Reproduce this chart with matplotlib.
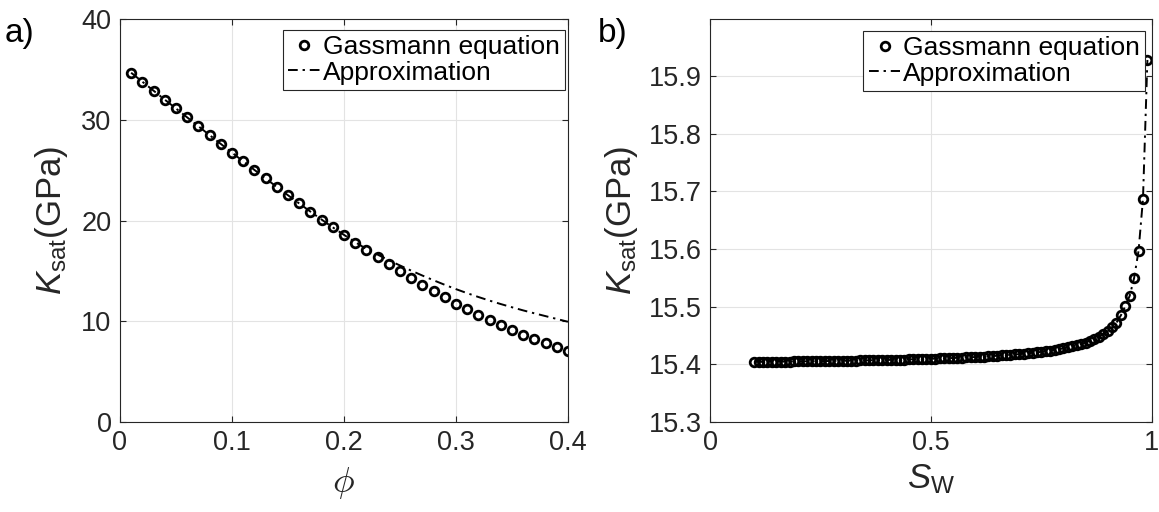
import matplotlib
matplotlib.use("Agg")
import matplotlib.pyplot as plt

plt.rcParams['font.family'] = ['Liberation Sans', 'DejaVu Sans']
plt.rcParams['mathtext.fontset'] = 'custom'
plt.rcParams['mathtext.rm'] = 'Liberation Sans'
plt.rcParams['mathtext.it'] = 'Liberation Sans:italic'

# porosity sweep
phi = [0.01, 0.02, 0.03, 0.04, 0.05, 0.06, 0.07, 0.08, 0.09, 0.10,
       0.11, 0.12, 0.13, 0.14, 0.15, 0.16, 0.17, 0.18, 0.19, 0.20,
       0.21, 0.22, 0.23, 0.24, 0.25, 0.26, 0.27, 0.28, 0.29, 0.30,
       0.31, 0.32, 0.33, 0.34, 0.35, 0.36, 0.37, 0.38, 0.39, 0.40]
k_gassmann_phi = [34.67, 33.78, 32.89, 32.00, 31.12, 30.24, 29.36, 28.48, 27.61, 26.74,
                  25.88, 25.03, 24.18, 23.34, 22.51, 21.70, 20.89, 20.10, 19.32, 18.56,
                  17.81, 17.08, 16.36, 15.66, 14.97, 14.30, 13.64, 13.00, 12.37, 11.76,
                  11.17, 10.62, 10.09, 9.58, 9.10, 8.65, 8.22, 7.81, 7.42, 7.06]
k_approx_phi = [34.67, 33.78, 32.89, 32.00, 31.12, 30.24, 29.36, 28.48, 27.61, 26.74,
                25.88, 25.03, 24.18, 23.34, 22.51, 21.70, 20.89, 20.10, 19.32, 18.58,
                17.86, 17.18, 16.62, 16.06, 15.54, 15.03, 14.54, 14.07, 13.62, 13.19,
                12.79, 12.41, 12.05, 11.71, 11.39, 11.08, 10.79, 10.51, 10.23, 9.95]

# water saturation sweep
sw = [0.10, 0.11, 0.12, 0.13, 0.14, 0.15, 0.16, 0.17, 0.18, 0.19,
      0.20, 0.21, 0.22, 0.23, 0.24, 0.25, 0.26, 0.27, 0.28, 0.29,
      0.30, 0.31, 0.32, 0.33, 0.34, 0.35, 0.36, 0.37, 0.38, 0.39,
      0.40, 0.41, 0.42, 0.43, 0.44, 0.45, 0.46, 0.47, 0.48, 0.49,
      0.50, 0.51, 0.52, 0.53, 0.54, 0.55, 0.56, 0.57, 0.58, 0.59,
      0.60, 0.61, 0.62, 0.63, 0.64, 0.65, 0.66, 0.67, 0.68, 0.69,
      0.70, 0.71, 0.72, 0.73, 0.74, 0.75, 0.76, 0.77, 0.78, 0.79,
      0.80, 0.81, 0.82, 0.83, 0.84, 0.85, 0.86, 0.87, 0.88, 0.89,
      0.90, 0.91, 0.92, 0.93, 0.94, 0.95, 0.96, 0.97, 0.98, 0.99]
k_gassmann_sw = [15.4043, 15.4043, 15.4044, 15.4045, 15.4046, 15.4047, 15.4047, 15.4048, 15.4049, 15.4050,
                 15.4051, 15.4052, 15.4053, 15.4054, 15.4055, 15.4056, 15.4057, 15.4058, 15.4060, 15.4061,
                 15.4062, 15.4063, 15.4065, 15.4066, 15.4067, 15.4069, 15.4070, 15.4072, 15.4073, 15.4075,
                 15.4076, 15.4078, 15.4080, 15.4082, 15.4084, 15.4086, 15.4088, 15.4090, 15.4092, 15.4094,
                 15.4097, 15.4099, 15.4102, 15.4104, 15.4107, 15.4110, 15.4113, 15.4116, 15.4120, 15.4123,
                 15.4127, 15.4131, 15.4135, 15.4139, 15.4144, 15.4148, 15.4154, 15.4159, 15.4165, 15.4171,
                 15.4177, 15.4184, 15.4192, 15.4200, 15.4208, 15.4217, 15.4227, 15.4238, 15.4250, 15.4263,
                 15.4278, 15.4293, 15.4311, 15.4330, 15.4352, 15.4377, 15.4406, 15.4439, 15.4477, 15.4522,
                 15.4575, 15.4641, 15.4723, 15.4850, 15.5010, 15.5190, 15.5500, 15.5970, 15.6870, 15.9280]
k_approx_sw = list(k_gassmann_sw)

GRAY = '#262626'

fig = plt.figure(figsize=(11.59, 5.12), dpi=100)
ax1 = fig.add_axes([0.1035, 0.1758, 0.3865, 0.787])
ax2 = fig.add_axes([0.6126, 0.1758, 0.3812, 0.787])


def style(ax):
    ax.grid(True, color='#e3e3e3', linewidth=0.8)
    ax.set_axisbelow(True)
    for s in ax.spines.values():
        s.set_color(GRAY)
        s.set_linewidth(0.8)
    ax.tick_params(direction='in', length=4, width=0.8, color=GRAY,
                   labelcolor=GRAY, labelsize=19.5, top=True, right=True, pad=6)


def draw(ax, x, y_mark, y_line, anchor):
    ax.plot(x, y_mark, 'o', mfc='none', mec='black', mew=2.0, ms=6.2,
            label='Gassmann equation', zorder=2)
    ax.plot(x, y_line, color='black', linestyle=(0, (5, 2.5, 1.2, 2.5)), linewidth=1.4,
            label='Approximation', zorder=3)
    leg = ax.legend(loc='upper right', bbox_to_anchor=anchor, fontsize=19,
                    frameon=True, fancybox=False, framealpha=1,
                    edgecolor=GRAY, handlelength=1.2, handletextpad=0.1,
                    borderpad=0.2, labelspacing=0.05, borderaxespad=0)
    leg.get_frame().set_linewidth(0.8)


draw(ax1, phi, k_gassmann_phi, k_approx_phi, (0.993, 0.973))
ax1.set_xlim(0, 0.4)
ax1.set_ylim(0, 40)
ax1.set_xticks([0, 0.1, 0.2, 0.3, 0.4])
ax1.set_xticklabels(['0', '0.1', '0.2', '0.3', '0.4'])
ax1.set_yticks([0, 10, 20, 30, 40])
style(ax1)
ax1.set_xlabel(r'$\phi$', fontsize=26, color=GRAY, math_fontfamily='cm', labelpad=6)
ax1.set_ylabel(r'$K_{\mathrm{sat}}$(GPa)', fontsize=25, color=GRAY, labelpad=8)

draw(ax2, sw, k_gassmann_sw, k_approx_sw, (0.985, 0.970))
ax2.set_xlim(0, 1)
ax2.set_ylim(15.3, 15.999)
ax2.set_xticks([0, 0.5, 1])
ax2.set_xticklabels(['0', '0.5', '1'])
ax2.set_yticks([15.3, 15.4, 15.5, 15.6, 15.7, 15.8, 15.9])
ax2.set_yticklabels(['15.3', '15.4', '15.5', '15.6', '15.7', '15.8', '15.9'])
style(ax2)
ax2.set_xlabel(r'$S_{\mathrm{W}}$', fontsize=25, color=GRAY, labelpad=4)
ax2.set_ylabel(r'$K_{\mathrm{sat}}$(GPa)', fontsize=25, color=GRAY, labelpad=6)

fig.text(0.004, 0.965, 'a)', fontsize=24, color='black', va='top')
fig.text(0.516, 0.965, 'b)', fontsize=24, color='black', va='top')

fig.savefig('out.png', dpi=100)
